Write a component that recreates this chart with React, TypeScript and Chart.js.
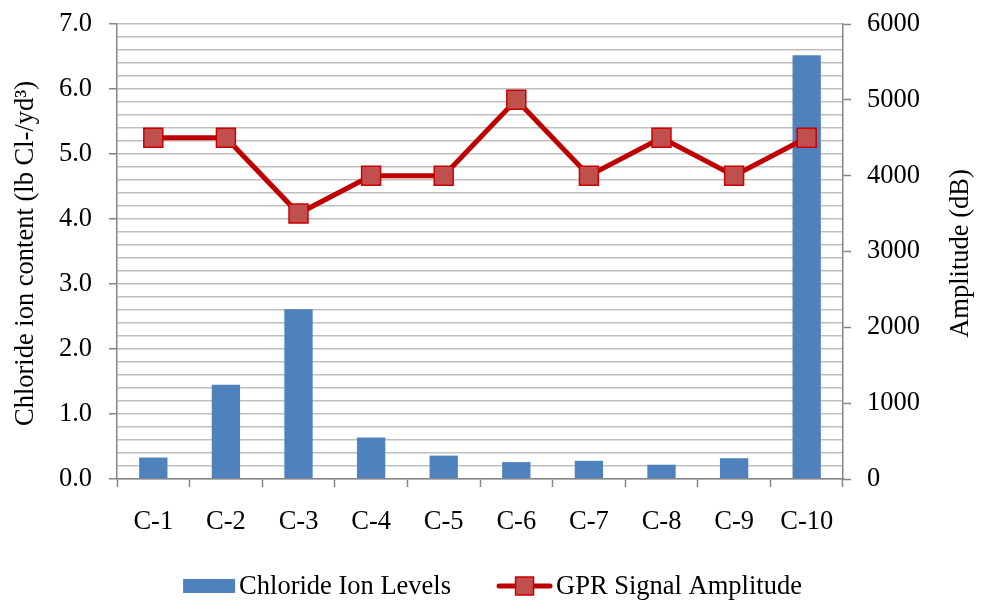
import React, { useEffect, useRef } from "react";
import { Chart, registerables } from "chart.js";

Chart.register(...registerables);

const categories = ["C-1", "C-2", "C-3", "C-4", "C-5", "C-6", "C-7", "C-8", "C-9", "C-10"];
const chlorideLevels = [0.33, 1.45, 2.61, 0.64, 0.36, 0.26, 0.28, 0.22, 0.32, 6.52];
const gprAmplitude = [4500, 4500, 3500, 4000, 4000, 5000, 4000, 4500, 4000, 4500];
const leftTitle = "Chloride ion content (lb Cl-/yd³)";
const rightTitle = "Amplitude (dB)";

const FONT = "'Liberation Serif', 'Times New Roman', serif";
const FS = 26.5;
const AXIS = "#868686";
const GRID = "#bfbfbf";
const BAR = "#4f81bd";
const LINE = "#c00000";
const MARK = "#c0504d";

const titlesPlugin = {
  id: "titles",
  afterDraw(chart: any) {
    const ctx = chart.ctx;
    const a = chart.chartArea;
    const cy = (a.top + a.bottom) / 2 + 2;
    for (const [text, x] of [[leftTitle, 26], [rightTitle, 961]] as [string, number][]) {
      ctx.save();
      ctx.fillStyle = "#000";
      ctx.font = `${FS}px ${FONT}`;
      ctx.textAlign = "center";
      ctx.textBaseline = "middle";
      ctx.translate(x, cy);
      ctx.rotate(-Math.PI / 2);
      ctx.fillText(text, 0, 0);
      ctx.restore();
    }
  },
};

const legendPlugin = {
  id: "customLegend",
  afterDraw(chart: any) {
    const ctx = chart.ctx;
    const ds = chart.data.datasets;
    const y = 586;
    ctx.save();
    ctx.font = `${FS}px ${FONT}`;
    const w1 = ctx.measureText(ds[0].label).width;
    const w2 = ctx.measureText(ds[1].label).width;
    const boxW = 52;
    const lineW = 55;
    const gap = 4;
    const spacing = 46;
    const total = boxW + gap + w1 + spacing + lineW + gap + w2;
    let x = (chart.width - total) / 2 + 2;
    ctx.fillStyle = ds[0].backgroundColor;
    ctx.fillRect(x, y - 7, boxW, 14);
    x += boxW + gap;
    ctx.fillStyle = "#000";
    ctx.textAlign = "left";
    ctx.textBaseline = "middle";
    ctx.fillText(ds[0].label, x, y + 1);
    x += w1 + spacing;
    ctx.strokeStyle = ds[1].borderColor;
    ctx.lineWidth = 5;
    ctx.lineCap = "round";
    ctx.beginPath();
    ctx.moveTo(x + 2, y);
    ctx.lineTo(x + lineW - 2, y);
    ctx.stroke();
    const mx = x + lineW / 2;
    ctx.fillStyle = ds[1].pointBackgroundColor;
    ctx.fillRect(mx - 9, y - 9, 18, 18);
    ctx.lineWidth = 1.5;
    ctx.strokeStyle = ds[1].pointBorderColor;
    ctx.strokeRect(mx - 9, y - 9, 18, 18);
    x += lineW + gap;
    ctx.fillStyle = "#000";
    ctx.fillText(ds[1].label, x, y + 1);
    ctx.restore();
  },
};

const isMajor = (v: number) => Math.abs(v - Math.round(v)) < 1e-6;

export default function App() {
  const ref = useRef<HTMLCanvasElement>(null);
  useEffect(() => {
    document.body.style.margin = "0";
    const chart = new Chart(ref.current as HTMLCanvasElement, {
      type: "bar",
      data: {
        labels: categories,
        datasets: [
          {
            type: "bar",
            label: "Chloride Ion Levels",
            data: chlorideLevels,
            backgroundColor: BAR,
            yAxisID: "y",
            order: 1,
            categoryPercentage: 1,
            barPercentage: 0.39,
          } as any,
          {
            type: "line",
            label: "GPR Signal Amplitude",
            data: gprAmplitude,
            borderColor: LINE,
            borderWidth: 5,
            pointStyle: "rect",
            pointRadius: 13.4,
            pointHoverRadius: 13.4,
            pointBackgroundColor: MARK,
            pointBorderColor: "#cc0000",
            pointBorderWidth: 1.5,
            yAxisID: "y1",
            order: 0,
            tension: 0,
          } as any,
        ],
      },
      options: {
        responsive: false,
        animation: false,
        layout: { autoPadding: false, padding: { top: 24, left: 0, right: 0, bottom: 0 } },
        plugins: { legend: { display: false }, tooltip: { enabled: false } },
        font: { family: FONT, size: FS },
        color: "#000",
        scales: {
          x: {
            offset: true,
            grid: {
              offset: true,
              drawOnChartArea: false,
              drawTicks: true,
              tickLength: 8,
              tickColor: AXIS,
              tickWidth: 1.5,
            },
            border: { color: AXIS, width: 1.5 },
            ticks: {
              font: { family: FONT, size: FS },
              color: "#000",
              padding: 19,
              maxRotation: 0,
              autoSkip: false,
            },
            afterFit(scale: any) {
              scale.height = 134;
              scale.paddingLeft = 0;
              scale.paddingRight = 0;
            },
          },
          y: {
            position: "left",
            min: 0,
            max: 7,
            ticks: {
              stepSize: 0.2,
              autoSkip: false,
              font: { family: FONT, size: FS },
              color: "#000",
              padding: 17,
              callback: (v: any) => (isMajor(Number(v)) ? Number(v).toFixed(1) : ""),
            },
            grid: {
              color: GRID,
              lineWidth: 1.5,
              tickLength: 8,
              tickColor: (c: any) => (isMajor(c.tick.value) ? AXIS : "rgba(0,0,0,0)"),
              tickWidth: 1.5,
            },
            border: { color: AXIS, width: 1.5 },
            afterFit(scale: any) {
              scale.width = 117;
              scale.paddingTop = 0;
              scale.paddingBottom = 0;
            },
          },
          y1: {
            position: "right",
            min: 0,
            max: 6000,
            ticks: {
              stepSize: 1000,
              font: { family: FONT, size: FS },
              color: "#000",
              padding: 16,
              callback: (v: any) => String(v),
            },
            grid: {
              drawOnChartArea: false,
              tickLength: 8,
              tickColor: AXIS,
              tickWidth: 1.5,
            },
            border: { color: AXIS, width: 1.5 },
            afterFit(scale: any) {
              scale.width = 138;
              scale.paddingTop = 0;
              scale.paddingBottom = 0;
            },
          },
        },
      } as any,
      plugins: [titlesPlugin, legendPlugin],
    });
    return () => chart.destroy();
  }, []);
  return (
    <div style={{ width: 981, height: 613 }}>
      <canvas ref={ref} width={981} height={613} />
    </div>
  );
}
